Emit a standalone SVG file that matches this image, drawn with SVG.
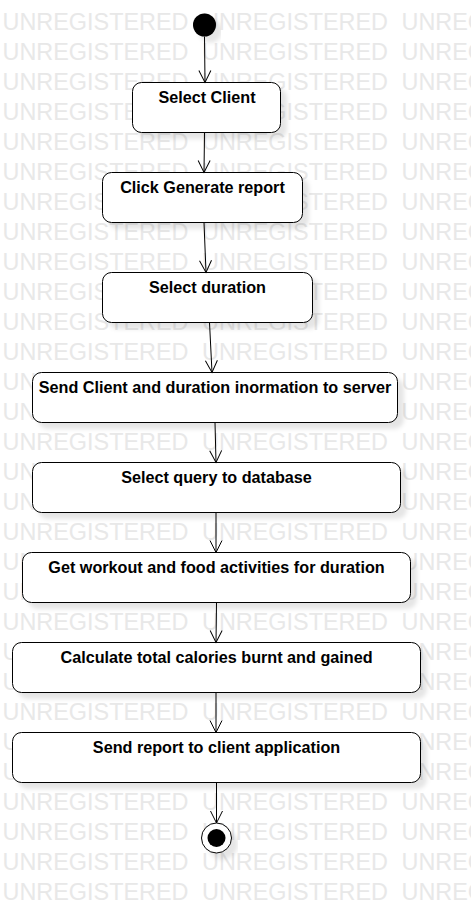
<svg xmlns="http://www.w3.org/2000/svg" width="471" height="903" viewBox="0 0 471 903">
<style>
.wm{font-family:"Liberation Sans",Arial,sans-serif;font-size:23px;fill:#e8e8e8}
.act{fill:#ffffff;stroke:#000000;stroke-width:1;filter:url(#sh)}
.lbl{font-family:"Liberation Sans",Arial,sans-serif;font-size:16.2px;font-weight:bold;fill:#000000;text-anchor:middle}
.edge{fill:none;stroke:#000000;stroke-width:1;marker-end:url(#open)}
</style>
<defs>
<filter id="sh" x="-10%" y="-20%" width="130%" height="160%">
<feGaussianBlur in="SourceAlpha" stdDeviation="2"/>
<feOffset dx="6" dy="6" result="b"/>
<feFlood flood-color="#000000" flood-opacity="0.1"/>
<feComposite in2="b" operator="in"/>
<feMerge><feMergeNode/><feMergeNode in="SourceGraphic"/></feMerge>
</filter>
<marker id="open" markerUnits="userSpaceOnUse" markerWidth="16" markerHeight="16" refX="12" refY="6" orient="auto" overflow="visible">
<path d="M0,0 L12,6 L0,12" fill="none" stroke="#000000" stroke-width="1"/>
</marker>
<g id="wmrow">
<text class="wm" x="2.5" y="0" textLength="186" lengthAdjust="spacingAndGlyphs">UNREGISTERED</text>
<text class="wm" x="202" y="0" textLength="186" lengthAdjust="spacingAndGlyphs">UNREGISTERED</text>
<text class="wm" x="401.5" y="0" textLength="186" lengthAdjust="spacingAndGlyphs">UNREGISTERED</text>
</g>
</defs>
<rect width="471" height="903" fill="#ffffff"/>
<g id="watermark">
<use href="#wmrow" y="29.5"/><use href="#wmrow" y="59.5"/><use href="#wmrow" y="89.5"/><use href="#wmrow" y="119.5"/><use href="#wmrow" y="149.5"/>
<use href="#wmrow" y="179.5"/><use href="#wmrow" y="209.5"/><use href="#wmrow" y="239.5"/><use href="#wmrow" y="269.5"/><use href="#wmrow" y="299.5"/>
<use href="#wmrow" y="329.5"/><use href="#wmrow" y="359.5"/><use href="#wmrow" y="389.5"/><use href="#wmrow" y="419.5"/><use href="#wmrow" y="449.5"/>
<use href="#wmrow" y="479.5"/><use href="#wmrow" y="509.5"/><use href="#wmrow" y="539.5"/><use href="#wmrow" y="569.5"/><use href="#wmrow" y="599.5"/>
<use href="#wmrow" y="629.5"/><use href="#wmrow" y="659.5"/><use href="#wmrow" y="689.5"/><use href="#wmrow" y="719.5"/><use href="#wmrow" y="749.5"/>
<use href="#wmrow" y="779.5"/><use href="#wmrow" y="809.5"/><use href="#wmrow" y="839.5"/><use href="#wmrow" y="869.5"/><use href="#wmrow" y="899.5"/>
</g>
<g id="start"><circle cx="204.5" cy="25" r="11.5" fill="#000000" filter="url(#sh)"/></g>
<g id="n1"><rect class="act" x="132.5" y="82.5" width="148" height="50" rx="9"/><text class="lbl" x="207" y="103">Select Client</text></g>
<g id="n2"><rect class="act" x="102.5" y="172.5" width="200" height="50" rx="9"/><text class="lbl" x="202.5" y="193">Click Generate report</text></g>
<g id="n3"><rect class="act" x="102.5" y="272.5" width="210" height="50" rx="9"/><text class="lbl" x="207.5" y="293">Select duration</text></g>
<g id="n4"><rect class="act" x="32.5" y="372.5" width="365" height="50" rx="9"/><text class="lbl" x="215" y="393">Send Client and duration inormation to server</text></g>
<g id="n5"><rect class="act" x="32.5" y="462.5" width="368" height="50" rx="9"/><text class="lbl" x="216.5" y="483">Select query to database</text></g>
<g id="n6"><rect class="act" x="22.5" y="552.5" width="388" height="50" rx="9"/><text class="lbl" x="216.5" y="573">Get workout and food activities for duration</text></g>
<g id="n7"><rect class="act" x="12.5" y="642.5" width="408" height="50" rx="9"/><text class="lbl" x="216.5" y="663">Calculate total calories burnt and gained</text></g>
<g id="n8"><rect class="act" x="12.5" y="732.5" width="408" height="50" rx="9"/><text class="lbl" x="216.5" y="753">Send report to client application</text></g>
<g id="end"><circle cx="216.5" cy="838" r="15" fill="#ffffff" stroke="#000000" stroke-width="1" filter="url(#sh)"/><circle cx="216.5" cy="838" r="9" fill="#000000"/></g>
<g id="connectors">
<line class="edge" x1="204.5" y1="36.5" x2="205" y2="82.5"/>
<line class="edge" x1="204.5" y1="132.5" x2="204" y2="172.5"/>
<line class="edge" x1="204" y1="222.5" x2="206" y2="272.5"/>
<line class="edge" x1="209.5" y1="322.5" x2="212" y2="372.5"/>
<line class="edge" x1="215" y1="422.5" x2="216" y2="462.5"/>
<line class="edge" x1="216" y1="512.5" x2="216" y2="552.5"/>
<line class="edge" x1="216.5" y1="602.5" x2="216" y2="642.5"/>
<line class="edge" x1="216" y1="692.5" x2="216" y2="732.5"/>
<line class="edge" x1="216.5" y1="782.5" x2="216.5" y2="823"/>
</g>
</svg>
